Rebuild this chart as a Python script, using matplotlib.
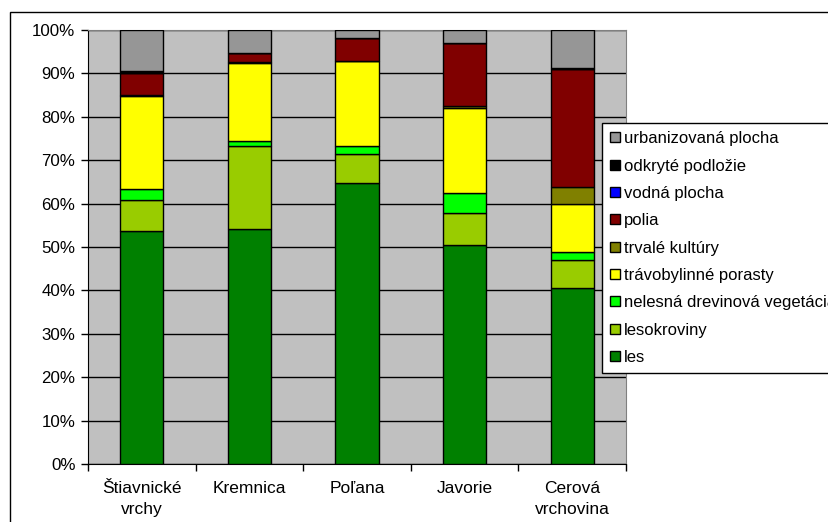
import numpy as np
import matplotlib
matplotlib.use("Agg")
import matplotlib.pyplot as plt
from matplotlib.patches import Rectangle
from matplotlib.ticker import FuncFormatter

plt.rcParams['font.family'] = ['Liberation Sans', 'DejaVu Sans']

regions = ['Štiavnické\nvrchy', 'Kremnica', 'Poľana', 'Javorie', 'Cerová\nvrchovina']

# shares in %, bottom to top
les = [53.8, 54.1, 64.8, 50.5, 40.6]
lesokroviny = [7.0, 19.2, 6.6, 7.4, 6.4]
nelesna = [2.5, 1.1, 1.9, 4.5, 1.9]
travobylinne = [21.5, 17.9, 19.6, 19.7, 11.0]
trvale = [0.3, 0.4, 0.0, 0.3, 4.0]
polia = [4.9, 2.1, 5.3, 14.7, 27.0]
vodna = [0.0, 0.0, 0.0, 0.0, 0.0]
odkryte = [0.6, 0.0, 0.0, 0.0, 0.4]
urban = [9.4, 5.2, 1.8, 2.9, 8.7]

series = [
    ('les', les, '#008000'),
    ('lesokroviny', lesokroviny, '#99CC00'),
    ('nelesná drevinová vegetácia', nelesna, '#00FF00'),
    ('trávobylinné porasty', travobylinne, '#FFFF00'),
    ('trvalé kultúry', trvale, '#808000'),
    ('polia', polia, '#800000'),
    ('vodná plocha', vodna, '#0000FF'),
    ('odkryté podložie', odkryte, '#000000'),
    ('urbanizovaná plocha', urban, '#969696'),
]

W, H = 829, 522
fig = plt.figure(figsize=(W / 100, H / 100), dpi=100)
ax = fig.add_axes([88 / W, 1 - 464 / H, (626 - 88) / W, (464 - 30) / H])
ax.set_facecolor('#C0C0C0')

# outer chart border
fig.patches.append(Rectangle((10 / W, -0.1), 1.2, 1 - 12 / H + 0.1, transform=fig.transFigure,
                             fill=False, edgecolor='black', linewidth=1.0, clip_on=False))

x = np.arange(len(regions))
total = np.sum([s[1] for s in series], axis=0)
bottom = np.zeros(len(regions))
handles = []
for name, vals, col in series:
    v = np.array(vals) / total * 100
    b = ax.bar(x, v, 0.4, bottom=bottom, color=col, edgecolor='black', linewidth=1.0,
               label=name, zorder=3)
    handles.append(b)
    bottom += v

ax.set_xlim(-0.5, len(regions) - 0.5)
ax.set_ylim(0, 100)
ax.set_yticks(np.arange(0, 101, 10))
ax.yaxis.set_major_formatter(FuncFormatter(lambda v, p: '%d%%' % v))
ax.yaxis.grid(True, color='black', linewidth=1.0, zorder=1)
ax.set_axisbelow(True)

ax.set_xticks(np.arange(-0.5, len(regions), 1.0))
ax.set_xticklabels([])
ax.set_xticks(x, minor=True)
ax.set_xticklabels(regions, minor=True, fontsize=12.5, linespacing=1.55)
ax.tick_params(axis='x', which='minor', length=0, pad=12)
ax.tick_params(axis='x', which='major', length=5, width=1, direction='out')
ax.tick_params(axis='y', length=5, width=1, direction='out', labelsize=12.2, pad=4)

for s in ['top', 'right']:
    ax.spines[s].set_color('#808080')
for s in ['left', 'bottom']:
    ax.spines[s].set_color('black')

leg = fig.legend(handles[::-1], [s[0] for s in series][::-1], loc='upper left',
                 bbox_to_anchor=(602 / W, 1 - 123 / H), fontsize=12, frameon=True,
                 fancybox=False, edgecolor='black', framealpha=1, borderaxespad=0,
                 handlelength=0.55, handleheight=0.55, handletextpad=0.25,
                 labelspacing=0.74, borderpad=0.5)
leg.get_frame().set_linewidth(1.0)

fig.savefig('out.png', dpi=100)
